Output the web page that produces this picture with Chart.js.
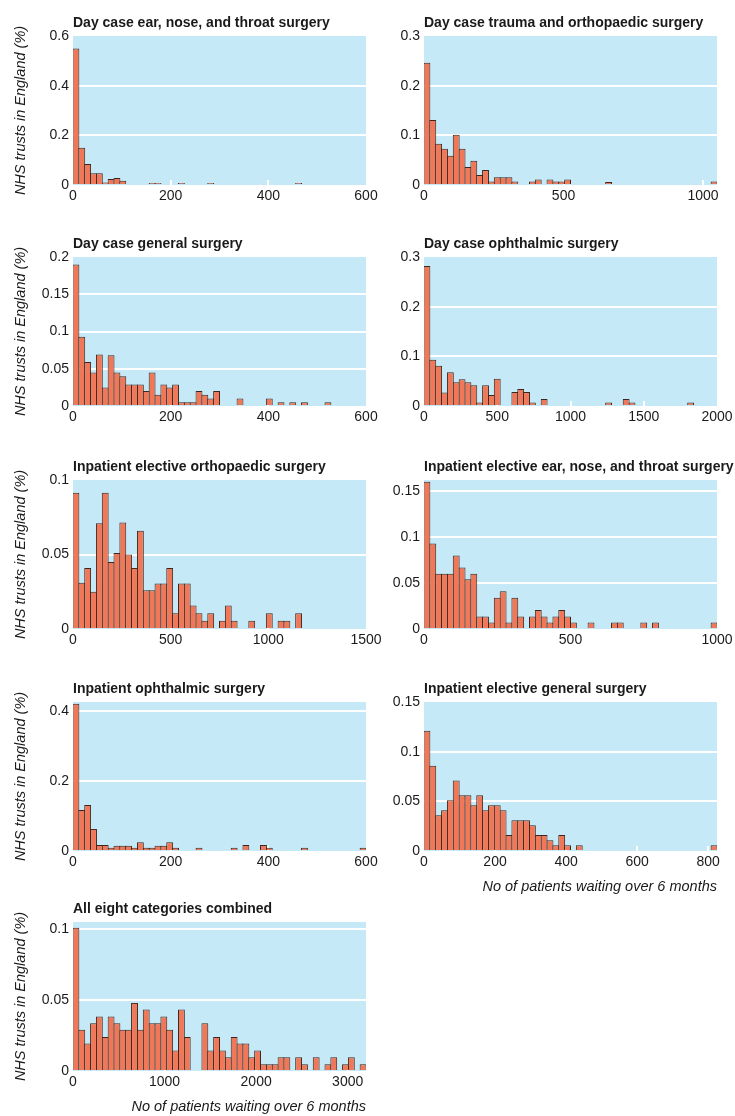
<!DOCTYPE html>
<html>
<head>
<meta charset="utf-8">
<title>NHS trusts by number of patients waiting over 6 months</title>
<script src="https://cdn.jsdelivr.net/npm/chart.js@4.4.1/dist/chart.umd.min.js"></script>
<style>
  html, body { margin: 0; padding: 0; background: #fff; overflow: hidden; }
  body { width: 735px; height: 1116px; position: relative; }
  canvas { position: absolute; }
</style>
</head>
<body>
<canvas id="c0"></canvas>
<canvas id="c1"></canvas>
<canvas id="c2"></canvas>
<canvas id="c3"></canvas>
<canvas id="c4"></canvas>
<canvas id="c5"></canvas>
<canvas id="c6"></canvas>
<canvas id="c7"></canvas>
<canvas id="c8"></canvas>
<script>
// share of trusts per bin, 50 bins from 0 to the axis maximum
const titles = [
    'Day case ear, nose, and throat surgery',
    'Day case trauma and orthopaedic surgery',
    'Day case general surgery',
    'Day case ophthalmic surgery',
    'Inpatient elective orthopaedic surgery',
    'Inpatient elective ear, nose, and throat surgery',
    'Inpatient ophthalmic surgery',
    'Inpatient elective general surgery',
    'All eight categories combined'
];

const entDay = [
    0.55, 0.15, 0.085, 0.047, 0.047, 0.01, 0.024, 0.028, 0.017, 0,
    0, 0, 0, 0.008, 0.008, 0, 0, 0, 0.008, 0,
    0, 0, 0, 0.008, 0, 0, 0, 0, 0, 0,
    0, 0, 0, 0, 0, 0, 0, 0, 0.008, 0,
    0, 0, 0, 0, 0, 0, 0, 0, 0, 0
];
const traumaDay = [
    0.246, 0.131, 0.083, 0.073, 0.059, 0.101, 0.073, 0.036, 0.049, 0.02,
    0.03, 0.007, 0.0155, 0.0155, 0.0155, 0.007, 0, 0, 0.007, 0.011,
    0, 0.011, 0.007, 0.007, 0.011, 0, 0, 0, 0, 0,
    0, 0.006, 0, 0, 0, 0, 0, 0, 0, 0,
    0, 0, 0, 0, 0, 0, 0, 0, 0, 0.007
];
const generalDay = [
    0.19, 0.093, 0.059, 0.045, 0.069, 0.025, 0.068, 0.045, 0.04, 0.029,
    0.029, 0.029, 0.02, 0.045, 0.015, 0.029, 0.025, 0.029, 0.005, 0.005,
    0.005, 0.02, 0.015, 0.01, 0.02, 0, 0, 0, 0.01, 0,
    0, 0, 0, 0.01, 0, 0.005, 0, 0.005, 0, 0.005,
    0, 0, 0, 0.005, 0, 0, 0, 0, 0, 0
];
const ophthDay = [
    0.282, 0.093, 0.081, 0.027, 0.068, 0.048, 0.054, 0.048, 0.042, 0.007,
    0.042, 0.022, 0.055, 0, 0, 0.028, 0.034, 0.028, 0.007, 0,
    0.014, 0, 0, 0, 0, 0, 0, 0, 0, 0,
    0, 0.007, 0, 0, 0.014, 0.007, 0, 0, 0, 0,
    0, 0, 0, 0, 0, 0.007, 0, 0, 0, 0
];
const orthoInp = [
    0.0915, 0.031, 0.041, 0.025, 0.071, 0.0915, 0.045, 0.051, 0.0715, 0.05,
    0.041, 0.066, 0.026, 0.026, 0.0305, 0.0305, 0.041, 0.0105, 0.0305, 0.0305,
    0.0157, 0.0105, 0.0056, 0.0105, 0, 0.0056, 0.0157, 0.0056, 0, 0,
    0.0056, 0, 0, 0.0105, 0, 0.0056, 0.0056, 0, 0.0105, 0,
    0, 0, 0, 0, 0, 0, 0, 0, 0, 0
];
const entInp = [
    0.16, 0.093, 0.06, 0.06, 0.06, 0.08, 0.067, 0.054, 0.06, 0.0137,
    0.0137, 0.0072, 0.034, 0.041, 0.0072, 0.034, 0.0137, 0, 0.0137, 0.0206,
    0.0137, 0.0072, 0.0137, 0.0206, 0.0137, 0.0072, 0, 0, 0.0072, 0,
    0, 0, 0.0072, 0.0072, 0, 0, 0, 0.0072, 0, 0.0072,
    0, 0, 0, 0, 0, 0, 0, 0, 0, 0.0072
];
const ophthInp = [
    0.42, 0.117, 0.131, 0.063, 0.017, 0.017, 0.0095, 0.015, 0.015, 0.015,
    0.0095, 0.025, 0.0095, 0.0095, 0.015, 0.015, 0.025, 0.0095, 0, 0,
    0, 0.0095, 0, 0, 0, 0, 0, 0.0095, 0, 0.017,
    0, 0, 0.017, 0.0095, 0, 0, 0, 0, 0, 0.0095,
    0, 0, 0, 0, 0, 0, 0, 0, 0, 0.0095
];
const generalInp = [
    0.121, 0.0857, 0.036, 0.041, 0.051, 0.071, 0.056, 0.056, 0.046, 0.056,
    0.041, 0.046, 0.046, 0.041, 0.016, 0.031, 0.031, 0.031, 0.026, 0.016,
    0.016, 0.0107, 0.0057, 0.016, 0.0057, 0, 0.0057, 0, 0, 0,
    0, 0, 0, 0, 0, 0, 0, 0, 0, 0,
    0, 0, 0, 0, 0, 0, 0, 0, 0, 0.0057
];
const allCombined = [
    0.101, 0.029, 0.0193, 0.0337, 0.0384, 0.024, 0.0384, 0.0337, 0.029, 0.029,
    0.048, 0.029, 0.0434, 0.0337, 0.0337, 0.0384, 0.029, 0.0144, 0.0434, 0.024,
    0, 0, 0.0337, 0.0144, 0.024, 0.0144, 0.0097, 0.024, 0.0193, 0.0193,
    0.0097, 0.0144, 0.0047, 0.0047, 0.0047, 0.0097, 0.0097, 0, 0.0097, 0.0047,
    0, 0.0097, 0, 0.0047, 0.0097, 0, 0.0047, 0.0097, 0, 0.0047
];
const series = [entDay, traumaDay, generalDay, ophthDay, orthoInp, entInp, ophthInp, generalInp, allCombined];

const binWidth = [12, 21, 12, 40, 30, 20, 12, 16.5, 64];
const xMax = [600, 1050, 600, 2000, 1500, 1000, 600, 825, 3200];
const xTicks = [
    [0, 200, 400, 600], [0, 500, 1000], [0, 200, 400, 600], [0, 500, 1000, 1500, 2000],
    [0, 500, 1000, 1500], [0, 500, 1000], [0, 200, 400, 600], [0, 200, 400, 600, 800],
    [0, 1000, 2000, 3000]
];
const yMax = [0.6, 0.3, 0.2, 0.3, 0.1, 0.162, 0.425, 0.15, 0.105];
const yTicks = [
    [0, 0.2, 0.4, 0.6], [0, 0.1, 0.2, 0.3], [0, 0.05, 0.1, 0.15, 0.2], [0, 0.1, 0.2, 0.3],
    [0, 0.05, 0.1], [0, 0.05, 0.1, 0.15], [0, 0.2, 0.4], [0, 0.05, 0.1, 0.15],
    [0, 0.05, 0.1]
];
const yTitle = 'NHS trusts in England (%)';
const xTitle = 'No of patients waiting over 6 months';

// layout
const plotTops = [36, 36, 257, 257, 480, 480, 702, 702, 922];
const PLOT_H = 149;
const BG = '#c6e9f8';
const BAR = '#f07858';
const EDGE = '#3a2820';
const INK = '#1a1a1a';
const tickFont = { family: '"Liberation Sans", Arial, sans-serif', size: 14 };
const noteFont = { family: '"Liberation Sans", Arial, sans-serif', size: 14.5, style: 'italic' };

const plotBg = {
    id: 'plotBg',
    beforeDraw(chart) {
        const { ctx, chartArea: a } = chart;
        ctx.save();
        ctx.fillStyle = BG;
        ctx.fillRect(a.left, a.top, a.right - a.left, a.bottom - a.top);
        ctx.restore();
    }
};

const panelTitle = {
    id: 'panelTitle',
    afterDraw(chart, args, opts) {
        const { ctx, chartArea: a } = chart;
        ctx.save();
        ctx.font = 'bold 14px "Liberation Sans", Arial, sans-serif';
        ctx.fillStyle = INK;
        ctx.textBaseline = 'alphabetic';
        ctx.fillText(opts.text, a.left, a.top - 9);
        ctx.restore();
    }
};

function makeChart(i) {
    const leftCol = i % 2 === 0;
    const withXTitle = i >= 7;
    const axisH = withXTitle ? 46 : 30;
    const canvas = document.getElementById('c' + i);
    const w = leftCol ? 392 : 355;
    const h = 36 + PLOT_H + axisH;
    canvas.width = w;
    canvas.height = h;
    canvas.style.left = (leftCol ? 0 : 380) + 'px';
    canvas.style.top = (plotTops[i] - 36) + 'px';
    canvas.style.width = w + 'px';
    canvas.style.height = h + 'px';

    const bw = binWidth[i];
    const points = series[i].map((v, k) => ({ x: (k + 0.5) * bw, y: v > 0 ? v : null }));

    new Chart(canvas, {
        type: 'bar',
        data: {
            datasets: [{
                data: points,
                backgroundColor: BAR,
                borderColor: EDGE,
                borderWidth: { top: 1, left: 1, right: 1, bottom: 0 },
                borderSkipped: false,
                barPercentage: 1.17,
                categoryPercentage: 1
            }]
        },
        options: {
            responsive: false,
            animation: false,
            layout: { padding: { top: 36, right: leftCol ? 26 : 18, left: 0, bottom: 0 } },
            plugins: {
                legend: { display: false },
                tooltip: { enabled: false },
                panelTitle: { text: titles[i] }
            },
            scales: {
                x: {
                    type: 'linear',
                    offset: false,
                    min: 0,
                    max: xMax[i],
                    afterBuildTicks: s => { s.ticks = xTicks[i].map(v => ({ value: v })); },
                    afterFit: s => {
                        s.height = axisH;
                        // edge labels may overhang; keep the plot width fixed
                        s.paddingLeft = 0;
                        s.paddingRight = 0;
                    },
                    border: { display: false },
                    grid: {
                        offset: false,
                        drawOnChartArea: false,
                        drawTicks: true,
                        tickLength: -5,
                        lineWidth: 2,
                        color: c => (c.tick && c.tick.value > 0 && c.tick.value < xMax[i]) ? '#ffffff' : 'rgba(0,0,0,0)'
                    },
                    ticks: {
                        font: tickFont, color: INK, padding: 8, maxRotation: 0, autoSkip: false,
                        callback: v => String(v)
                    },
                    title: {
                        display: withXTitle, text: xTitle, align: 'end', color: INK, font: noteFont,
                        padding: { top: 0, bottom: 1 }
                    }
                },
                y: {
                    min: 0,
                    max: yMax[i],
                    afterBuildTicks: s => { s.ticks = yTicks[i].map(v => ({ value: v })); },
                    afterFit: s => { s.width = leftCol ? 73 : 44; },
                    border: { display: false },
                    grid: {
                        drawTicks: false,
                        lineWidth: 2,
                        color: c => (c.tick && c.tick.value > 0 && c.tick.value < yMax[i]) ? '#ffffff' : 'rgba(0,0,0,0)'
                    },
                    ticks: {
                        font: tickFont, color: INK, padding: 4,
                        callback: v => String(v)
                    },
                    title: {
                        display: leftCol, text: yTitle, color: INK, font: noteFont,
                        padding: { top: 12, bottom: 0 }
                    }
                }
            }
        },
        plugins: [plotBg, panelTitle]
    });
}

for (let i = 0; i < series.length; i++) makeChart(i);
</script>
</body>
</html>
